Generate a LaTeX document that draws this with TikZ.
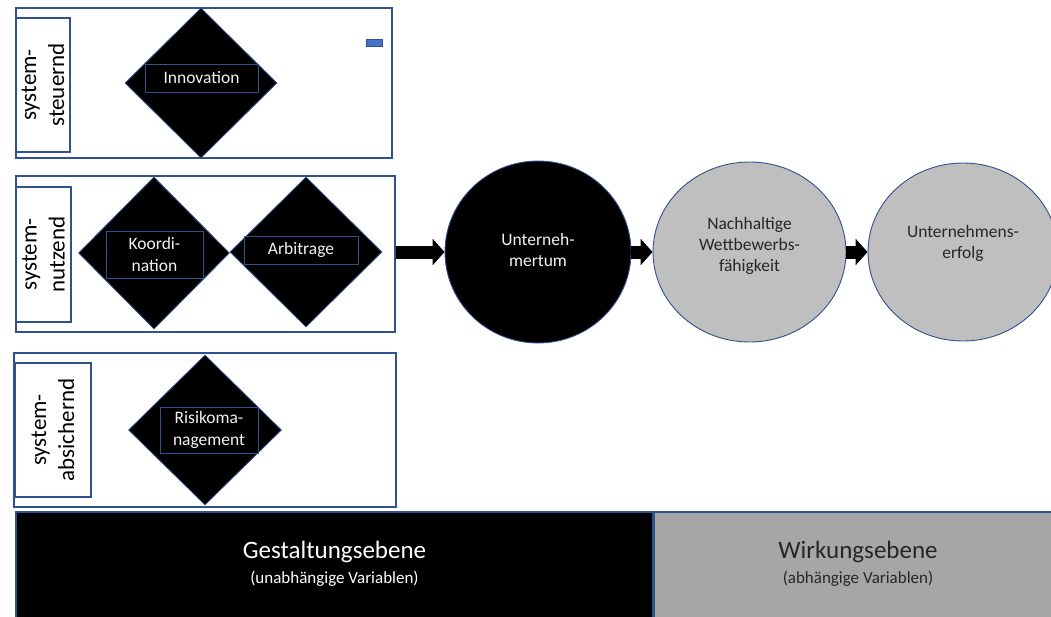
\documentclass[tikz,border=0pt]{standalone}
\usepackage{fontspec}
\setmainfont{Carlito}
\usetikzlibrary{shapes.geometric,arrows.meta}
\definecolor{bord}{HTML}{2F528F}
\definecolor{accent}{HTML}{4472C4}
\definecolor{lgrey}{HTML}{BFBFBF}
\definecolor{mgrey}{HTML}{A6A6A6}
\definecolor{ltext}{HTML}{F2F2F2}
\definecolor{dtext}{HTML}{262626}
\begin{document}
\begin{tikzpicture}[x=1pt,y=-1pt,
  frame/.style={draw=bord, line width=1.4pt, rectangle, inner sep=0pt, fill=white},
  sidelabel/.style={draw=bord, line width=1.4pt, rectangle, inner sep=0pt, rotate=90,
    align=center, font=\fontsize{23}{28}\selectfont, text=black},
  rhomb/.style={diamond, draw=bord, line width=0.8pt, fill=black, inner sep=0pt},
  actbox/.style={draw=bord, line width=1pt, rectangle, inner sep=0pt, align=center,
    text=ltext, font=\fontsize{17.5}{22}\selectfont},
  blob/.style={ellipse, draw=bord, line width=0.9pt, inner sep=0pt},
  blobtext/.style={align=center, inner sep=0pt, font=\fontsize{17.5}{21}\selectfont},
  bigarrow/.style={line width=13pt, draw=black, -{Triangle[length=12pt, width=26pt]}},
  level/.style={rectangle, draw=bord, line width=1.5pt, inner sep=0pt},
  leveltext/.style={align=center, inner sep=0pt, font=\fontsize{25}{25}\selectfont}
]
\useasboundingbox (0,0) rectangle (1051,616);
\clip (0,0) rectangle (1051,616);

% outer frames
\node[frame, minimum width=376pt, minimum height=150pt] (box1) at (204,83) {};
\node[frame, minimum width=379pt, minimum height=156pt] (box2) at (205.5,254) {};
\node[frame, minimum width=382pt, minimum height=154pt] (box3) at (205,430) {};

% side labels
\node[sidelabel, minimum width=134pt, minimum height=54pt] (lab1) at (43,85) {system-\\steuernd};
\node[sidelabel, minimum width=135pt, minimum height=55pt] (lab2) at (43.5,254.5) {system-\\nutzend};
\node[sidelabel, minimum width=134pt, minimum height=76pt] (lab3) at (53,430) {system-\\absichernd};

% small marker
\node[rectangle, fill=accent, draw=bord, line width=0.5pt, minimum width=16pt, minimum height=7pt, inner sep=0pt] (mark1) at (374,42.5) {};

% diamonds
\node[rhomb, minimum width=152pt, minimum height=150pt] (d1) at (201,83) {};
\node[rhomb, minimum width=151pt, minimum height=152pt] (d2) at (154,253) {};
\node[rhomb, minimum width=152pt, minimum height=150pt] (d3) at (306,252) {};
\node[rhomb, minimum width=153pt, minimum height=150pt] (d4) at (205,430) {};

% activity boxes
\node[actbox, minimum width=113pt, minimum height=28pt] (inno) at (201.5,78) {Innovation};
\node[actbox, minimum width=97pt, minimum height=47pt] (koord) at (154.5,254.5) {Koordi-\\nation};
\node[actbox, minimum width=114pt, minimum height=28pt] (arbi) at (301,250) {Arbitrage};
\node[actbox, minimum width=98pt, minimum height=46pt] (risk) at (209,430) {Risikoma-\\nagement};

% outcome ellipses
\node[blob, fill=black, minimum width=186pt, minimum height=182pt] (unt) at (538,252) {};
\node[blob, fill=lgrey, minimum width=193pt, minimum height=180pt] (nach) at (749.5,252) {};
\node[blob, fill=lgrey, minimum width=190pt, minimum height=178pt] (erf) at (963,252) {};
\node[blobtext, text=ltext] (unttext) at (538,250) {Unterneh-\\mertum};
\node[blobtext, text=dtext] (nachtext) at (749.5,246) {Nachhaltige\\Wettbewerbs-\\fähigkeit};
\node[blobtext, text=dtext] (erftext) at (963,243) {Unternehmens-\\erfolg};

% block arrows
\draw[bigarrow] (box2.east |- unt.west) -- (unt.west);
\draw[bigarrow] (unt.east) -- (nach.west);
\draw[bigarrow] (nach.east) -- (erf.west);

% bottom levels
\node[level, fill=black, minimum width=637pt, minimum height=106pt] (gest) at (334.5,565) {};
\node[level, fill=mgrey, minimum width=400pt, minimum height=106pt, anchor=west] (wirk) at (gest.east) {};
\node[leveltext, text=white] (gesttext) at (334.5,564)
  {Gestaltungsebene\\{\fontsize{17}{21}\selectfont (unabhängige Variablen)}};
\node[leveltext, text=dtext] (wirktext) at (858,564)
  {Wirkungsebene\\{\fontsize{17}{21}\selectfont (abhängige Variablen)}};
\end{tikzpicture}
\end{document}
